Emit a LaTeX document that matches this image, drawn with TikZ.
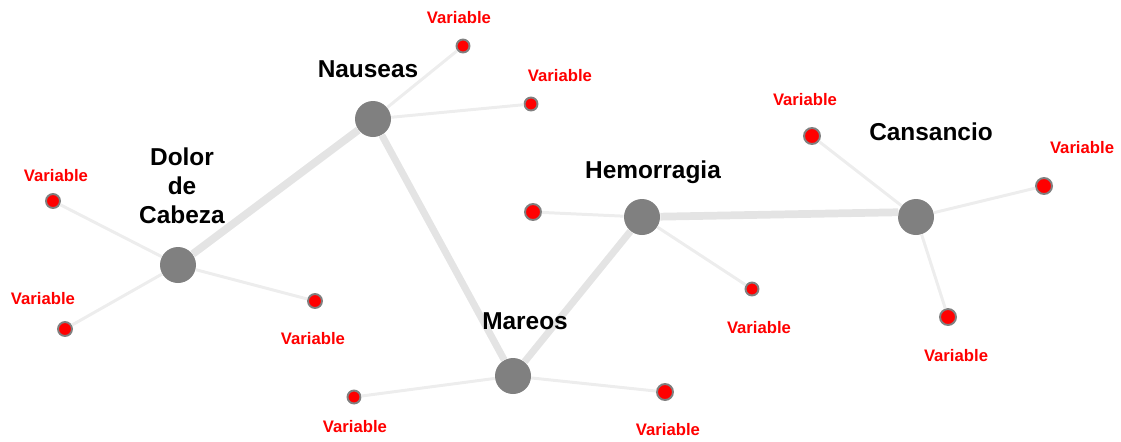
\documentclass[tikz,border=0pt]{standalone}
\usepackage{fontspec}
\setmainfont{Liberation Sans}
\begin{document}
\begin{tikzpicture}[x=0.02cm,y=-0.02cm,
  hub/.style={circle,fill=hubgray,draw=none,minimum size=0.72cm,inner sep=0pt},
  leaf/.style={circle,fill=red,draw=hubgray,line width=1.1pt,minimum size=#1,inner sep=0pt},
  leaf/.default=0.26cm,
  strong/.style={draw=edgegray,line width=4.4pt},
  weak/.style={draw=edgelight,line width=1.7pt},
  hublabel/.style={font=\fontsize{13.9}{16.4}\selectfont\bfseries,align=center,text=black,inner sep=0pt},
  varlabel/.style={font=\fontsize{9.5}{11}\selectfont\bfseries,text=red,inner sep=0pt}]
\definecolor{hubgray}{HTML}{808080}
\definecolor{edgegray}{HTML}{E4E4E4}
\definecolor{edgelight}{HTML}{EDEDED}
\useasboundingbox (0,0) rectangle (1121,441);

% main symptoms
\node[hub] (dolor) at (178,265) {};
\node[hub] (nauseas) at (373,119) {};
\node[hub] (mareos) at (513,376) {};
\node[hub] (hemo) at (642,217) {};
\node[hub] (cans) at (916,217) {};

% variables
\node[leaf] (n1) at (463,46) {};
\node[leaf] (n2) at (531,104) {};
\node[leaf=0.28cm] (d1) at (53,201) {};
\node[leaf=0.28cm] (d2) at (65,329) {};
\node[leaf=0.28cm] (d3) at (315,301) {};
\node[leaf=0.32cm] (h1) at (533,212) {};
\node[leaf] (h2) at (752,289) {};
\node[leaf=0.32cm] (c1) at (812,136) {};
\node[leaf=0.32cm] (c2) at (1044,186) {};
\node[leaf=0.32cm] (c3) at (948,317) {};
\node[leaf] (m1) at (354,397) {};
\node[leaf=0.32cm] (m2) at (665,392) {};

% connections between symptoms
\path[strong] (dolor) -- (nauseas);
\path[strong,line width=4pt] (nauseas) -- (mareos);
\path[strong,line width=4pt] (mareos) -- (hemo);
\path[strong] (hemo) -- (cans.165);

% connections to variables
\path[weak] (nauseas) -- (n1);
\path[weak] (nauseas) -- (n2);
\path[weak] (dolor) -- (d1);
\path[weak] (dolor) -- (d2);
\path[weak] (dolor) -- (d3);
\path[weak] (hemo) -- (h1);
\path[weak] (hemo) -- (h2);
\path[weak] (cans) -- (c1);
\path[weak] (cans) -- (c2);
\path[weak] (cans) -- (c3);
\path[weak] (mareos) -- (m1);
\path[weak] (mareos) -- (m2);

% labels
\node[hublabel] (ldolor) at (182,186) {Dolor\\de\\Cabeza};
\node[hublabel] (lnau) at (368,69) {Nauseas};
\node[hublabel] (lhemo) at (653,172) {Hemorragia};
\node[hublabel] (lcans) at (931,132) {Cansancio};
\node[hublabel] (lmar) at (525,321) {Mareos};

\node[varlabel] (vn1) at (459,18) {Variable};
\node[varlabel] (vn2) at (560,76) {Variable};
\node[varlabel] (vd1) at (56,176) {Variable};
\node[varlabel] (vd2) at (43,299) {Variable};
\node[varlabel] (vd3) at (313,339) {Variable};
\node[varlabel] (vh2) at (759,328) {Variable};
\node[varlabel] (vc1) at (805,100) {Variable};
\node[varlabel] (vc2) at (1082,148) {Variable};
\node[varlabel] (vc3) at (956,356) {Variable};
\node[varlabel] (vm1) at (355,427) {Variable};
\node[varlabel] (vm2) at (668,430) {Variable};
\end{tikzpicture}
\end{document}
